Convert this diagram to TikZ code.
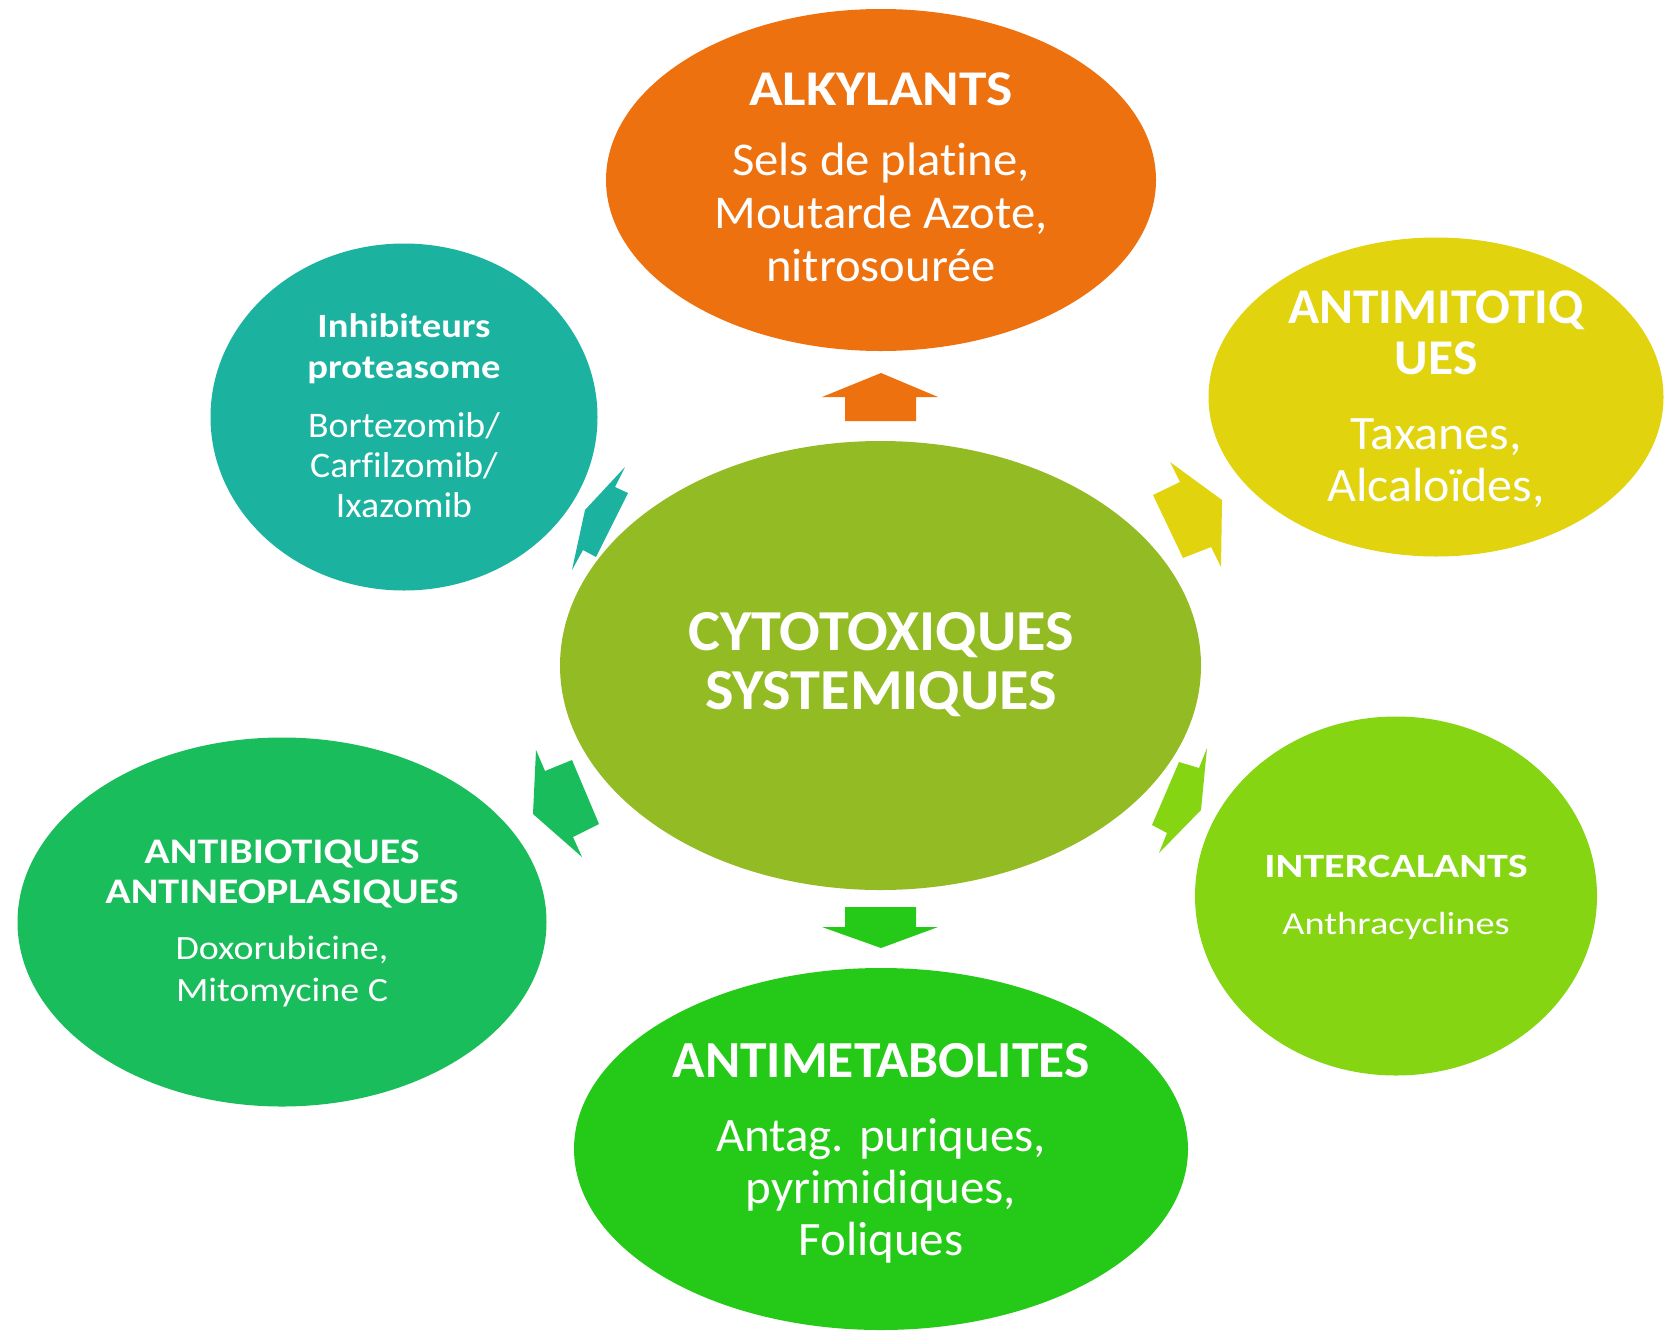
\documentclass[tikz,border=0pt]{standalone}
\usepackage{fontspec}
\setmainfont{Carlito}[Ligatures={NoCommon}]
\usetikzlibrary{shapes.geometric}

\definecolor{alkcol}{HTML}{EE7110}
\definecolor{mitcol}{HTML}{E1D30E}
\definecolor{intcol}{HTML}{86D513}
\definecolor{metcol}{HTML}{25C917}
\definecolor{abxcol}{HTML}{1ABD5B}
\definecolor{inhcol}{HTML}{1BB3A0}
\definecolor{cytcol}{HTML}{93BB23}

% taille, interligne, largeur
\newcommand{\fs}[3]{\fontsize{#1}{#2}\selectfont\addfontfeature{FakeStretch=#3}}

\tikzset{
  bubble/.style={ellipse, inner sep=0pt, draw=none},
  lbl/.style={text=white, inner sep=0pt, align=center}
}

\begin{document}
\begin{tikzpicture}[x=1pt,y=-1pt]

\useasboundingbox (0,0) rectangle (1678,1331); %cadre

% bulles
\node[bubble,fill=cytcol,minimum width=641,minimum height=449] (cyt) at (880.5,665.5) {};
\node[bubble,fill=alkcol,minimum width=550,minimum height=342] (alk) at (881,180) {};
\node[bubble,fill=mitcol,minimum width=455,minimum height=319] (mit) at (1436,397) {};
\node[bubble,fill=intcol,minimum width=402,minimum height=359] (int) at (1396,896) {};
\node[bubble,fill=metcol,minimum width=614,minimum height=362] (met) at (881,1149) {};
\node[bubble,fill=abxcol,minimum width=529,minimum height=369] (abx) at (282,922) {};
\node[bubble,fill=inhcol,minimum width=387,minimum height=347] (inh) at (404,417) {};

% fleches
\fill[alkcol] (822,397)--(881,373)--(938,397)--(916,397)--(916,421)--(845,421)--(845,397)--cycle;
\fill[metcol] (845,907)--(916,907)--(916,927)--(938,927)--(881,948)--(822,927)--(845,927)--cycle;
\fill[mitcol] (1170,462)--(1222,500)--(1221,567)--(1211,547)--(1183,558)--(1153,495)--(1180,482)--cycle;
\fill[intcol] (1207,748)--(1201,810)--(1159,853)--(1167,833)--(1152,825)--(1179,762)--(1199,768)--cycle;
\fill[abxcol] (536,750)--(545,771)--(572,760)--(599,824)--(573,837)--(582,857)--(533,814)--cycle;
\fill[inhcol] (625,467)--(615,487)--(628,493)--(596,557)--(583,550)--(572,570)--(585,510)--cycle;

% textes
\node[lbl,font=\bfseries\fs{58}{59}{1.04}] (cytT) at (881,665) {CYTOTOXIQUES\\SYSTEMIQUES};

\node[lbl,font=\bfseries\fs{50}{50}{1.11},anchor=base] (alkT) at (881,105) {ALKYLANTS};
\node[lbl,font=\fs{47}{53}{1.035},anchor=north] (alkB) at (881,143) {Sels de platine,\\Moutarde Azote,\\nitrosourée};

\node[lbl,font=\bfseries\fs{50}{51}{1.03},anchor=north] (mitT) at (1436,291) {ANTIMITOTIQ\\UES};
\node[lbl,font=\fs{48}{52}{1.04},anchor=north] (mitB) at (1436,418) {Taxanes,\\Alcaloïdes,};

\node[lbl,font=\bfseries\fs{34}{34}{1.24},anchor=base] (intT) at (1396,877) {INTERCALANTS};
\node[lbl,font=\fs{32}{32}{1.2},anchor=base] (intB) at (1396,934) {Anthracyclines};

\node[lbl,font=\bfseries\fs{52}{52}{1.03},anchor=base] (metT) at (881,1077) {ANTIMETABOLITES};
\node[lbl,font=\fs{48}{52}{1.02},anchor=north] (metB) at (881,1118) {Antag. puriques,\\pyrimidiques,\\Foliques};

\node[lbl,font=\bfseries\fs{36}{40}{1.165},anchor=north] (abxT) at (282,840) {ANTIBIOTIQUES\\ANTINEOPLASIQUES};
\node[lbl,font=\fs{34}{42}{1.115},anchor=north] (abxB) at (282,936) {Doxorubicine,\\Mitomycine C};

\node[lbl,font=\bfseries\fs{34}{41}{1.135},anchor=north] (inhT) at (404,313) {Inhibiteurs\\proteasome};
\node[lbl,font=\fs{36}{40}{1.05},anchor=north] (inhB) at (404,412) {Bortezomib/\\Carfilzomib/\\Ixazomib};

\end{tikzpicture}
\end{document}
